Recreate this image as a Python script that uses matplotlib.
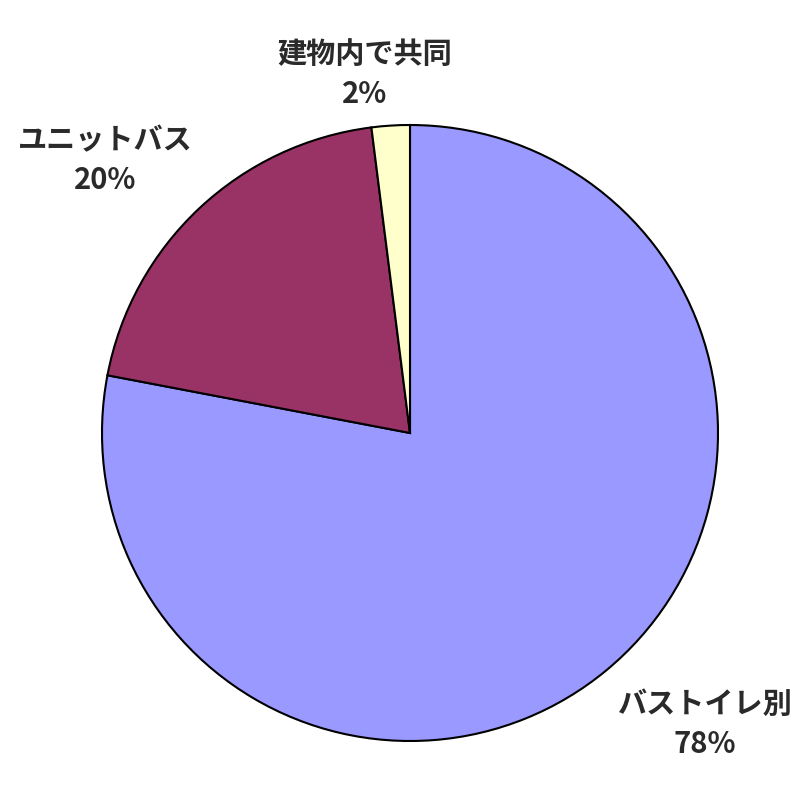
import matplotlib
matplotlib.use('Agg')
import matplotlib.pyplot as plt

plt.rcParams['font.family'] = ['Noto Sans CJK JP', 'DejaVu Sans']

# data
labels = ["バストイレ別", "ユニットバス", "建物内で共同"]
values = [78, 20, 2]
colors = ["#9999FF", "#993366", "#FFFFCC"]
# label anchor (data coords, pie radius = 1)
label_pos = [(0.958, -0.945), (-0.990, 0.886), (-0.146, 1.167)]

fig = plt.figure(figsize=(8, 8), dpi=100)
# pie centre at (410, 433) px, radius 308 px
r = 308/800.0
cx = 410/800.0
cy = 1 - 433/800.0
ax = fig.add_axes([cx - r, cy - r, 2*r, 2*r])

ax.pie(values, colors=colors, startangle=90, counterclock=False,
       radius=1.0, wedgeprops=dict(edgecolor="black", linewidth=1.5))
ax.set_xlim(-1, 1)
ax.set_ylim(-1, 1)
ax.set_aspect('equal')
ax.axis('off')

for name, v, (x, y) in zip(labels, values, label_pos):
    ax.text(x, y, "%s\n%d%%" % (name, v), ha='center', va='center',
            fontsize=21, fontweight='bold', color='#2a2a2a',
            linespacing=1.42, clip_on=False)

fig.savefig("out.png", dpi=100)
